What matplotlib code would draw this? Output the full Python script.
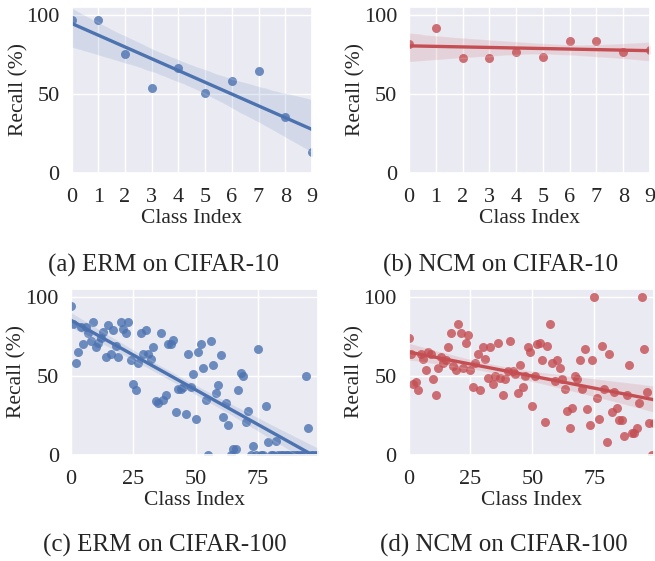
import numpy as np
import pandas as pd
import matplotlib
matplotlib.use("Agg")
import matplotlib.pyplot as plt
import seaborn as sns

# ---------------- data ----------------
c10_classes = list(range(10))
erm_c10 = [96.5, 96.5, 75.5, 53.5, 66.5, 50.5, 58.5, 64.5, 35.5, 13.5]
ncm_c10 = [81.5, 91.5, 72.5, 72.5, 76.5, 73.5, 83.5, 83.5, 76.5, 77.5]

c100_classes = list(range(100))
erm_c100 = [94, 83, 58, 65, 81, 70, 81, 77, 72, 84,
            68, 71, 74, 78, 62, 82, 64, 79, 69, 62,
            84, 80, 77, 84, 60, 45, 41, 58, 77, 64,
            79, 64, 61, 68, 34, 33, 77, 35, 38, 70,
            70, 73, 27, 42, 42, 43, 26, 64, 43, 51,
            23, 65, 70, 55, 35, 0, 72, 57, 39, 44,
            63, 24, 33, 19, 0, 4, 4, 41, 52, 50,
            21, 28, 0, 6, 0, 67, 0, 0, 31, 8,
            0, 0, 9, 0, 0, 0, 0, 0, 0, 0,
            0, 0, 0, 0, 50, 17, 0, 0, 0, 0]
ncm_c100 = [74, 64, 45, 46, 41, 64, 61, 54, 65, 64,
            48, 38, 55, 62, 58, 60, 68, 77, 56, 54,
            83, 77, 55, 71, 76, 54, 43, 58, 64, 41,
            68, 61, 49, 68, 45, 50, 71, 49, 38, 48,
            53, 72, 53, 51, 39, 57, 43, 50, 68, 65,
            31, 50, 70, 71, 60, 21, 69, 83, 58, 47,
            60, 55, 48, 42, 28, 17, 30, 50, 48, 60,
            42, 67, 29, 19, 60, 100, 36, 23, 69, 42,
            8, 64, 27, 40, 30, 22, 22, 12, 38, 57,
            14, 14, 17, 33, 100, 67, 40, 20, 0, 20]

captions = ["(a) ERM on CIFAR-10", "(b) NCM on CIFAR-10",
            "(c) ERM on CIFAR-100", "(d) NCM on CIFAR-100"]
c10_ticks = list(range(10))
c100_ticks = [0, 25, 50, 75]
y_ticks = [0, 50, 100]

# ---------------- style ----------------
sns.set_theme(style="darkgrid")
plt.rcParams["font.family"] = ["Liberation Serif", "DejaVu Serif"]

W, H = 655, 561
fig = plt.figure(figsize=(W / 100, H / 100), dpi=100)

blue = "#4C72B0"
red = "#C44E52"

def px_axes(l, t, r, b):
    return [l / W, 1 - b / H, (r - l) / W, (b - t) / H]

panels = [
    (px_axes(71.5, 7, 312, 173), c10_classes, erm_c10, blue, (0, 9), c10_ticks),
    (px_axes(409, 7, 650, 173), c10_classes, ncm_c10, red, (0, 9), c10_ticks),
    (px_axes(70.7, 289, 318, 455), c100_classes, erm_c100, blue, (0, 99), c100_ticks),
    (px_axes(408.5, 289, 654, 455), c100_classes, ncm_c100, red, (0, 99), c100_ticks),
]

for i, (rect, xs, ys, col, xl, xt) in enumerate(panels):
    ax = fig.add_axes(rect)
    df = pd.DataFrame({"x": xs, "y": ys})
    sns.regplot(data=df, x="x", y="y", ax=ax, color=col, seed=0,
                scatter_kws={"s": 42, "alpha": 0.8, "linewidths": 0},
                line_kws={"lw": 2.4})
    ax.set_xlim(*xl)
    ax.set_ylim(0, 105)
    ax.set_xticks(xt)
    ax.set_yticks(y_ticks)
    ax.tick_params(axis="x", labelsize=16, pad=5)
    ax.tick_params(axis="y", labelsize=16, pad=2.5)
    ax.set_xlabel("Class Index", fontsize=15.5)
    ax.set_ylabel("Recall (%)", fontsize=15.5)
    ax.xaxis.set_label_coords(0.5, -0.215)
    ax.yaxis.set_label_coords(-0.18, 0.5)

cap_pos = [(164, 265), (501, 265), (165, 545), (504, 545)]
for (cx, cy), txt in zip(cap_pos, captions):
    fig.text(cx / W, 1 - cy / H, txt, ha="center", va="center", fontsize=18)

fig.savefig("out.png", dpi=100)
